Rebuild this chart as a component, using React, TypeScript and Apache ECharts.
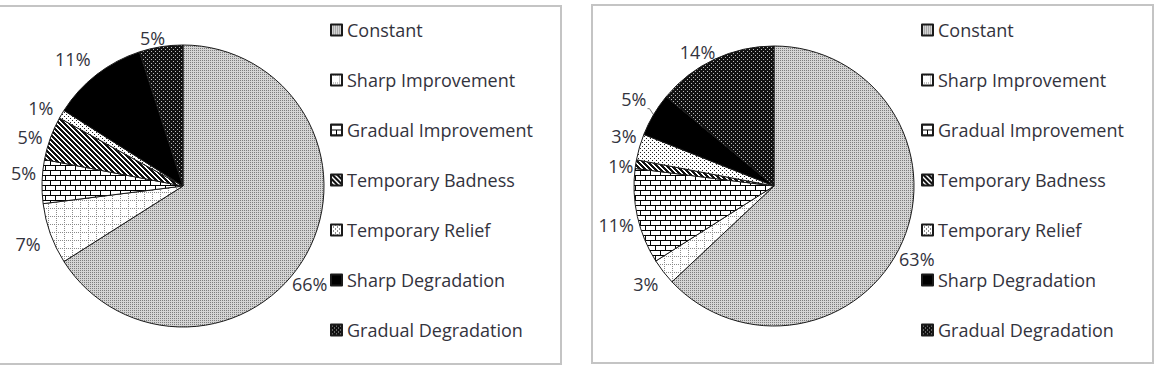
import React, { useEffect, useRef } from "react";
import * as echarts from "echarts";

const categories = [
  "Constant",
  "Sharp Improvement",
  "Gradual Improvement",
  "Temporary Badness",
  "Temporary Relief",
  "Sharp Degradation",
  "Gradual Degradation",
];
const leftValues = [66, 7, 5, 5, 1, 11, 5];
const rightValues = [63, 3, 11, 1, 3, 5, 14];

const FONT = "Open Sans";
const TEXT = "#33333d";

function tile(w: number, h: number, bg: string, px: (ctx: CanvasRenderingContext2D) => void) {
  const c = document.createElement("canvas");
  c.width = w;
  c.height = h;
  const ctx = c.getContext("2d")!;
  ctx.fillStyle = bg;
  ctx.fillRect(0, 0, w, h);
  px(ctx);
  return { image: c.toDataURL(), repeat: "repeat", imageWidth: w, imageHeight: h };
}

function makePatterns() {
  const constant = tile(2, 2, "#d4d4d4", (ctx) => {
    ctx.fillStyle = "#7c7c7c";
    ctx.fillRect(0, 0, 1, 1);
  });
  const sharpImp = tile(8, 8, "#ffffff", (ctx) => {
    ctx.fillStyle = "#8a8a8a";
    for (let i = 0; i < 8; i += 2) {
      ctx.fillRect(i, 0, 1, 1);
      ctx.fillRect(0, i, 1, 1);
    }
  });
  const gradualImp = tile(10, 10, "#ffffff", (ctx) => {
    ctx.fillStyle = "#000000";
    ctx.fillRect(0, 0, 10, 1);
    ctx.fillRect(0, 5, 10, 1);
    ctx.fillRect(0, 0, 1, 5);
    ctx.fillRect(5, 5, 1, 5);
  });
  const tempBad = tile(5, 5, "#ffffff", (ctx) => {
    ctx.fillStyle = "#111111";
    for (let i = 0; i < 5; i++) {
      for (let k = 0; k < 3; k++) ctx.fillRect((i + k) % 5, i, 1, 1);
    }
  });
  const tempRelief = tile(4, 4, "#ffffff", (ctx) => {
    ctx.fillStyle = "#222222";
    ctx.fillRect(0, 0, 1, 1);
    ctx.fillRect(2, 2, 1, 1);
  });
  const sharpDeg = "#000000";
  const gradualDeg = tile(4, 4, "#111111", (ctx) => {
    ctx.fillStyle = "#bbbbbb";
    ctx.fillRect(1, 1, 1, 1);
    ctx.fillRect(3, 3, 1, 1);
  });
  return [constant, sharpImp, gradualImp, tempBad, tempRelief, sharpDeg, gradualDeg];
}

// small label nudges (dx, dy) per series and data index, to mimic the original label placement
const labelNudges: Record<number, Record<number, [number, number]>> = {
  0: { 0: [-26, 28], 1: [2, 9], 2: [6, -8], 3: [4, 0], 4: [3, -4], 5: [4, -12], 6: [12, -4] },
  1: { 0: [-15, 15], 1: [6, 9], 2: [4, 7], 3: [5, 0], 4: [4, -10], 5: [4, -10], 6: [10, -3] },
};

export default function App() {
  const ref = useRef<HTMLDivElement>(null);

  useEffect(() => {
    document.body.style.margin = "0";
    const chart = echarts.init(ref.current!, null, { renderer: "svg" });
    const patterns = makePatterns();

    const buildData = (values: number[], leaderIndex: number) =>
      values.map((v, i) => {
        const item: any = { name: categories[i], value: v, itemStyle: { color: patterns[i] } };
        if (i === leaderIndex) {
          item.labelLine = { show: true, length: 12, length2: 2, lineStyle: { color: "#777", width: 1 } };
        }
        return item;
      });

    const pieBase = (center: number[], radius: number, values: number[], leaderIndex: number) => ({
      type: "pie",
      center,
      radius,
      startAngle: 90,
      clockwise: true,
      silent: true,
      avoidLabelOverlap: true,
      minShowLabelAngle: 0,
      itemStyle: { borderColor: "#1a1a1a", borderWidth: 1 },
      label: {
        show: true,
        position: "outside",
        formatter: (p: any) => p.value + "%",
        fontFamily: FONT,
        fontSize: 18,
        lineHeight: 18,
        color: TEXT,
        overflow: "none",
        edgeDistance: 0,
      },
      labelLine: { show: false, length: 5, length2: 2 },
      labelLayout: (p: any) => {
        const n = (labelNudges[p.seriesIndex] || {})[p.dataIndex];
        return n ? { dx: n[0], dy: n[1] } : {};
      },
      emphasis: { disabled: true },
      data: buildData(values, leaderIndex),
    });

    const legendBase = (left: number) => ({
      orient: "vertical",
      left,
      top: 20,
      padding: 0,
      icon: "rect",
      itemWidth: 11,
      itemHeight: 11,
      itemGap: 30,
      selectedMode: false,
      data: categories,
      textStyle: { fontFamily: FONT, fontSize: 18, lineHeight: 20, color: TEXT },
    });

    chart.setOption({
      animation: false,
      backgroundColor: "#ffffff",
      legend: [legendBase(330), legendBase(921)],
      graphic: [
        {
          type: "rect",
          shape: { x: -2, y: 6, width: 563, height: 358 },
          style: { fill: "none", stroke: "#c4c4c4", lineWidth: 2 },
          silent: true,
        },
        {
          type: "rect",
          shape: { x: 592, y: 5, width: 561, height: 358 },
          style: { fill: "none", stroke: "#c4c4c4", lineWidth: 2 },
          silent: true,
        },
      ],
      series: [pieBase([183, 186], 141, leftValues, -1), pieBase([774, 186], 140, rightValues, 5)],
    });

    return () => chart.dispose();
  }, []);

  return <div ref={ref} style={{ width: 1161, height: 383 }} />;
}
